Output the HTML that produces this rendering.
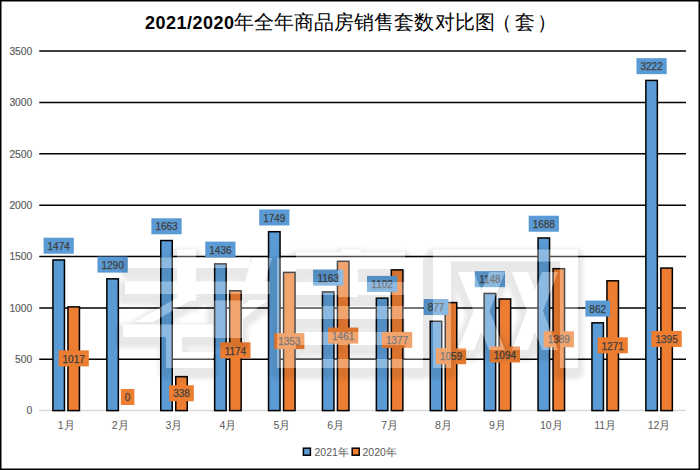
<!DOCTYPE html><html><head><meta charset="utf-8"><style>
html,body{margin:0;padding:0;background:#fff;}
body{width:700px;height:470px;overflow:hidden;position:relative;}
svg{position:absolute;left:0;top:0;}
text{font-family:"Liberation Sans",sans-serif;}
</style></head><body>
<svg width="700" height="470" viewBox="0 0 700 470">
<rect x="0" y="0" width="700" height="470" fill="#fff"/>

<line x1="39.25" y1="359.25" x2="686" y2="359.25" stroke="#000" stroke-width="1.5"/>
<line x1="39.25" y1="307.89" x2="686" y2="307.89" stroke="#000" stroke-width="1.5"/>
<line x1="39.25" y1="256.54" x2="686" y2="256.54" stroke="#000" stroke-width="1.5"/>
<line x1="39.25" y1="205.18" x2="686" y2="205.18" stroke="#000" stroke-width="1.5"/>
<line x1="39.25" y1="153.83" x2="686" y2="153.83" stroke="#000" stroke-width="1.5"/>
<line x1="39.25" y1="102.47" x2="686" y2="102.47" stroke="#000" stroke-width="1.5"/>
<line x1="39.25" y1="51.12" x2="686" y2="51.12" stroke="#000" stroke-width="1.5"/>
<line x1="39.25" y1="410.60" x2="686" y2="410.60" stroke="#d9d9d9" stroke-width="1.5"/>
<text x="32.3" y="414.30" font-size="10.3" fill="#595959" stroke="#595959" stroke-width="0.15" text-anchor="end">0</text>
<text x="32.3" y="362.94" font-size="10.3" fill="#595959" stroke="#595959" stroke-width="0.15" text-anchor="end">500</text>
<text x="32.3" y="311.59" font-size="10.3" fill="#595959" stroke="#595959" stroke-width="0.15" text-anchor="end">1000</text>
<text x="32.3" y="260.24" font-size="10.3" fill="#595959" stroke="#595959" stroke-width="0.15" text-anchor="end">1500</text>
<text x="32.3" y="208.88" font-size="10.3" fill="#595959" stroke="#595959" stroke-width="0.15" text-anchor="end">2000</text>
<text x="32.3" y="157.53" font-size="10.3" fill="#595959" stroke="#595959" stroke-width="0.15" text-anchor="end">2500</text>
<text x="32.3" y="106.17" font-size="10.3" fill="#595959" stroke="#595959" stroke-width="0.15" text-anchor="end">3000</text>
<text x="32.3" y="54.82" font-size="10.3" fill="#595959" stroke="#595959" stroke-width="0.15" text-anchor="end">3500</text>
<rect x="52.95" y="259.96" width="11.5" height="150.64" fill="#5b9bd5" stroke="#000" stroke-width="1.5"/>
<rect x="67.95" y="306.89" width="11.5" height="103.71" fill="#ed7d31" stroke="#000" stroke-width="1.5"/>
<rect x="106.85" y="278.85" width="11.5" height="131.75" fill="#5b9bd5" stroke="#000" stroke-width="1.5"/>
<rect x="160.75" y="240.54" width="11.5" height="170.06" fill="#5b9bd5" stroke="#000" stroke-width="1.5"/>
<rect x="175.75" y="376.63" width="11.5" height="33.97" fill="#ed7d31" stroke="#000" stroke-width="1.5"/>
<rect x="214.65" y="263.86" width="11.5" height="146.74" fill="#5b9bd5" stroke="#000" stroke-width="1.5"/>
<rect x="229.65" y="290.77" width="11.5" height="119.83" fill="#ed7d31" stroke="#000" stroke-width="1.5"/>
<rect x="268.55" y="231.71" width="11.5" height="178.89" fill="#5b9bd5" stroke="#000" stroke-width="1.5"/>
<rect x="283.55" y="272.38" width="11.5" height="138.22" fill="#ed7d31" stroke="#000" stroke-width="1.5"/>
<rect x="322.45" y="291.90" width="11.5" height="118.70" fill="#5b9bd5" stroke="#000" stroke-width="1.5"/>
<rect x="337.45" y="261.29" width="11.5" height="149.31" fill="#ed7d31" stroke="#000" stroke-width="1.5"/>
<rect x="376.35" y="298.16" width="11.5" height="112.44" fill="#5b9bd5" stroke="#000" stroke-width="1.5"/>
<rect x="391.35" y="269.92" width="11.5" height="140.68" fill="#ed7d31" stroke="#000" stroke-width="1.5"/>
<rect x="430.25" y="321.27" width="11.5" height="89.33" fill="#5b9bd5" stroke="#000" stroke-width="1.5"/>
<rect x="445.25" y="302.58" width="11.5" height="108.02" fill="#ed7d31" stroke="#000" stroke-width="1.5"/>
<rect x="484.15" y="293.44" width="11.5" height="117.16" fill="#5b9bd5" stroke="#000" stroke-width="1.5"/>
<rect x="499.15" y="298.99" width="11.5" height="111.61" fill="#ed7d31" stroke="#000" stroke-width="1.5"/>
<rect x="538.05" y="237.98" width="11.5" height="172.62" fill="#5b9bd5" stroke="#000" stroke-width="1.5"/>
<rect x="553.05" y="268.69" width="11.5" height="141.91" fill="#ed7d31" stroke="#000" stroke-width="1.5"/>
<rect x="591.95" y="322.81" width="11.5" height="87.79" fill="#5b9bd5" stroke="#000" stroke-width="1.5"/>
<rect x="606.95" y="280.81" width="11.5" height="129.79" fill="#ed7d31" stroke="#000" stroke-width="1.5"/>
<rect x="645.85" y="80.42" width="11.5" height="330.18" fill="#5b9bd5" stroke="#000" stroke-width="1.5"/>
<rect x="660.85" y="268.07" width="11.5" height="142.53" fill="#ed7d31" stroke="#000" stroke-width="1.5"/>
<rect x="43.58" y="237.71" width="30.24" height="16" fill="#5b9bd5"/>
<text x="58.70" y="249.91" font-size="10" fill="#404040" stroke="#404040" stroke-width="0.25" text-anchor="middle">1474</text>
<rect x="97.48" y="256.60" width="30.24" height="16" fill="#5b9bd5"/>
<text x="112.60" y="268.80" font-size="10" fill="#404040" stroke="#404040" stroke-width="0.25" text-anchor="middle">1290</text>
<rect x="151.38" y="218.29" width="30.24" height="16" fill="#5b9bd5"/>
<text x="166.50" y="230.49" font-size="10" fill="#404040" stroke="#404040" stroke-width="0.25" text-anchor="middle">1663</text>
<rect x="205.28" y="241.61" width="30.24" height="16" fill="#5b9bd5"/>
<text x="220.40" y="253.81" font-size="10" fill="#404040" stroke="#404040" stroke-width="0.25" text-anchor="middle">1436</text>
<rect x="259.18" y="209.46" width="30.24" height="16" fill="#5b9bd5"/>
<text x="274.30" y="221.66" font-size="10" fill="#404040" stroke="#404040" stroke-width="0.25" text-anchor="middle">1749</text>
<rect x="313.08" y="269.65" width="30.24" height="16" fill="#5b9bd5"/>
<text x="328.20" y="281.85" font-size="10" fill="#404040" stroke="#404040" stroke-width="0.25" text-anchor="middle">1163</text>
<rect x="366.98" y="275.91" width="30.24" height="16" fill="#5b9bd5"/>
<text x="382.10" y="288.11" font-size="10" fill="#404040" stroke="#404040" stroke-width="0.25" text-anchor="middle">1102</text>
<rect x="423.66" y="299.02" width="24.68" height="16" fill="#5b9bd5"/>
<text x="436.00" y="311.22" font-size="10" fill="#404040" stroke="#404040" stroke-width="0.25" text-anchor="middle">877</text>
<rect x="474.78" y="271.19" width="30.24" height="16" fill="#5b9bd5"/>
<text x="489.90" y="283.39" font-size="10" fill="#404040" stroke="#404040" stroke-width="0.25" text-anchor="middle">1148</text>
<rect x="528.68" y="215.73" width="30.24" height="16" fill="#5b9bd5"/>
<text x="543.80" y="227.93" font-size="10" fill="#404040" stroke="#404040" stroke-width="0.25" text-anchor="middle">1688</text>
<rect x="585.36" y="300.56" width="24.68" height="16" fill="#5b9bd5"/>
<text x="597.70" y="312.76" font-size="10" fill="#404040" stroke="#404040" stroke-width="0.25" text-anchor="middle">862</text>
<rect x="636.48" y="58.17" width="30.24" height="16" fill="#5b9bd5"/>
<text x="651.60" y="70.37" font-size="10" fill="#404040" stroke="#404040" stroke-width="0.25" text-anchor="middle">3222</text>
<rect x="58.58" y="350.37" width="30.24" height="16" fill="#ed7d31"/>
<text x="73.70" y="362.57" font-size="10" fill="#404040" stroke="#404040" stroke-width="0.25" text-anchor="middle">1017</text>
<rect x="120.82" y="389.00" width="13.56" height="16" fill="#ed7d31"/>
<text x="127.60" y="401.20" font-size="10" fill="#404040" stroke="#404040" stroke-width="0.25" text-anchor="middle">0</text>
<rect x="169.16" y="385.24" width="24.68" height="16" fill="#ed7d31"/>
<text x="181.50" y="397.44" font-size="10" fill="#404040" stroke="#404040" stroke-width="0.25" text-anchor="middle">338</text>
<rect x="220.28" y="342.31" width="30.24" height="16" fill="#ed7d31"/>
<text x="235.40" y="354.51" font-size="10" fill="#404040" stroke="#404040" stroke-width="0.25" text-anchor="middle">1174</text>
<rect x="274.18" y="333.12" width="30.24" height="16" fill="#ed7d31"/>
<text x="289.30" y="345.32" font-size="10" fill="#404040" stroke="#404040" stroke-width="0.25" text-anchor="middle">1353</text>
<rect x="328.08" y="327.57" width="30.24" height="16" fill="#ed7d31"/>
<text x="343.20" y="339.77" font-size="10" fill="#404040" stroke="#404040" stroke-width="0.25" text-anchor="middle">1461</text>
<rect x="381.98" y="331.88" width="30.24" height="16" fill="#ed7d31"/>
<text x="397.10" y="344.08" font-size="10" fill="#404040" stroke="#404040" stroke-width="0.25" text-anchor="middle">1377</text>
<rect x="435.88" y="348.22" width="30.24" height="16" fill="#ed7d31"/>
<text x="451.00" y="360.42" font-size="10" fill="#404040" stroke="#404040" stroke-width="0.25" text-anchor="middle">1059</text>
<rect x="489.78" y="346.42" width="30.24" height="16" fill="#ed7d31"/>
<text x="504.90" y="358.62" font-size="10" fill="#404040" stroke="#404040" stroke-width="0.25" text-anchor="middle">1094</text>
<rect x="543.68" y="331.27" width="30.24" height="16" fill="#ed7d31"/>
<text x="558.80" y="343.47" font-size="10" fill="#404040" stroke="#404040" stroke-width="0.25" text-anchor="middle">1389</text>
<rect x="597.58" y="337.33" width="30.24" height="16" fill="#ed7d31"/>
<text x="612.70" y="349.53" font-size="10" fill="#404040" stroke="#404040" stroke-width="0.25" text-anchor="middle">1271</text>
<rect x="651.48" y="330.96" width="30.24" height="16" fill="#ed7d31"/>
<text x="666.60" y="343.16" font-size="10" fill="#404040" stroke="#404040" stroke-width="0.25" text-anchor="middle">1395</text>
<text x="66.20" y="428.9" font-size="10.5" fill="#595959" text-anchor="middle">1月</text>
<text x="120.10" y="428.9" font-size="10.5" fill="#595959" text-anchor="middle">2月</text>
<text x="174.00" y="428.9" font-size="10.5" fill="#595959" text-anchor="middle">3月</text>
<text x="227.90" y="428.9" font-size="10.5" fill="#595959" text-anchor="middle">4月</text>
<text x="281.80" y="428.9" font-size="10.5" fill="#595959" text-anchor="middle">5月</text>
<text x="335.70" y="428.9" font-size="10.5" fill="#595959" text-anchor="middle">6月</text>
<text x="389.60" y="428.9" font-size="10.5" fill="#595959" text-anchor="middle">7月</text>
<text x="443.50" y="428.9" font-size="10.5" fill="#595959" text-anchor="middle">8月</text>
<text x="497.40" y="428.9" font-size="10.5" fill="#595959" text-anchor="middle">9月</text>
<text x="551.30" y="428.9" font-size="10.5" fill="#595959" text-anchor="middle">10月</text>
<text x="605.20" y="428.9" font-size="10.5" fill="#595959" text-anchor="middle">11月</text>
<text x="659.10" y="428.9" font-size="10.5" fill="#595959" text-anchor="middle">12月</text>
<rect x="303.4" y="448.2" width="7" height="7" fill="#5b9bd5" stroke="#000" stroke-width="1.5"/>
<text x="314.5" y="455.5" font-size="10.5" fill="#595959">2021年</text>
<rect x="352.2" y="448.2" width="7" height="7" fill="#ed7d31" stroke="#000" stroke-width="1.5"/>
<text x="362.5" y="455.5" font-size="10.5" fill="#595959">2020年</text>
<text x="145" y="28.8" font-size="18" font-weight="bold" fill="#000" letter-spacing="0.5">2021/2020</text>
<text x="234.00" y="28.5" font-size="20" fill="#000">年</text>
<text x="254.05" y="28.5" font-size="20" fill="#000">全</text>
<text x="274.10" y="28.5" font-size="20" fill="#000">年</text>
<text x="294.15" y="28.5" font-size="20" fill="#000">商</text>
<text x="314.20" y="28.5" font-size="20" fill="#000">品</text>
<text x="334.25" y="28.5" font-size="20" fill="#000">房</text>
<text x="354.30" y="28.5" font-size="20" fill="#000">销</text>
<text x="374.35" y="28.5" font-size="20" fill="#000">售</text>
<text x="394.40" y="28.5" font-size="20" fill="#000">套</text>
<text x="414.45" y="28.5" font-size="20" fill="#000">数</text>
<text x="434.50" y="28.5" font-size="20" fill="#000">对</text>
<text x="454.55" y="28.5" font-size="20" fill="#000">比</text>
<text x="474.60" y="28.5" font-size="20" fill="#000">图</text>
<text x="492.15" y="28.5" font-size="20" fill="#000">（</text>
<text x="514.70" y="28.5" font-size="20" fill="#000">套</text>
<text x="537.25" y="28.5" font-size="20" fill="#000">）</text>
<defs><filter id="bl" x="-10%" y="-30%" width="120%" height="160%"><feGaussianBlur stdDeviation="2"/></filter>
<mask id="wmm" maskUnits="userSpaceOnUse" x="0" y="0" width="700" height="470"><rect width="700" height="470" fill="#fff"/><path d="M128 257.5H250V268H128Z M177 249.6H196V300.6H177Z M125 281.5H270V294H125Z M252 258 L272 258 L265 281.5 L245 281.5Z M135 322 L180 296 L198 296 L153 322Z M213 328 L250 300 L268 300 L231 328Z M123 324.6H213V337H123Z M214 300.6H243V338H214Z M166 337H182V368H166Z M166 352H213V368H166Z M277 258H296V368H277Z M405 258H423V368H405Z M341 249.6H361V256H341Z M338 256H358V297H338Z M296 252H405V269H296Z M296 282H405V295H296Z M296 306H405V319H296Z M296 332H405V345H296Z M296 359H405V368H296Z M433 249.6H451V368H433Z M560 249.6H578V368H560Z M451 249.6H560V261.5H451Z M458 272 L474 272 L505 350 L489 350Z M489 272 L505 272 L474 350 L458 350Z M512 272 L528 272 L558 350 L542 350Z M542 272 L558 272 L528 350 L512 350Z" fill="#000"/></mask></defs>
<g mask="url(#wmm)"><g opacity="0.09" filter="url(#bl)"><path d="M128 257.5H250V268H128Z M177 249.6H196V300.6H177Z M125 281.5H270V294H125Z M252 258 L272 258 L265 281.5 L245 281.5Z M135 322 L180 296 L198 296 L153 322Z M213 328 L250 300 L268 300 L231 328Z M123 324.6H213V337H123Z M214 300.6H243V338H214Z M166 337H182V368H166Z M166 352H213V368H166Z M277 258H296V368H277Z M405 258H423V368H405Z M341 249.6H361V256H341Z M338 256H358V297H338Z M296 252H405V269H296Z M296 282H405V295H296Z M296 306H405V319H296Z M296 332H405V345H296Z M296 359H405V368H296Z M433 249.6H451V368H433Z M560 249.6H578V368H560Z M451 249.6H560V261.5H451Z M458 272 L474 272 L505 350 L489 350Z M489 272 L505 272 L474 350 L458 350Z M512 272 L528 272 L558 350 L542 350Z M542 272 L558 272 L528 350 L512 350Z" transform="translate(-1,5)" fill="#000" stroke="#000" stroke-width="12" stroke-linejoin="round"/></g></g>
<path d="M128 257.5H250V268H128Z M177 249.6H196V300.6H177Z M125 281.5H270V294H125Z M252 258 L272 258 L265 281.5 L245 281.5Z M135 322 L180 296 L198 296 L153 322Z M213 328 L250 300 L268 300 L231 328Z M123 324.6H213V337H123Z M214 300.6H243V338H214Z M166 337H182V368H166Z M166 352H213V368H166Z M277 258H296V368H277Z M405 258H423V368H405Z M341 249.6H361V256H341Z M338 256H358V297H338Z M296 252H405V269H296Z M296 282H405V295H296Z M296 306H405V319H296Z M296 332H405V345H296Z M296 359H405V368H296Z M433 249.6H451V368H433Z M560 249.6H578V368H560Z M451 249.6H560V261.5H451Z M458 272 L474 272 L505 350 L489 350Z M489 272 L505 272 L474 350 L458 350Z M512 272 L528 272 L558 350 L542 350Z M542 272 L558 272 L528 350 L512 350Z" fill="#fff" fill-opacity="0.3"/>
<rect x="0.75" y="0.75" width="698.5" height="468.5" fill="none" stroke="#000" stroke-width="1.5"/>
</svg></body></html>
